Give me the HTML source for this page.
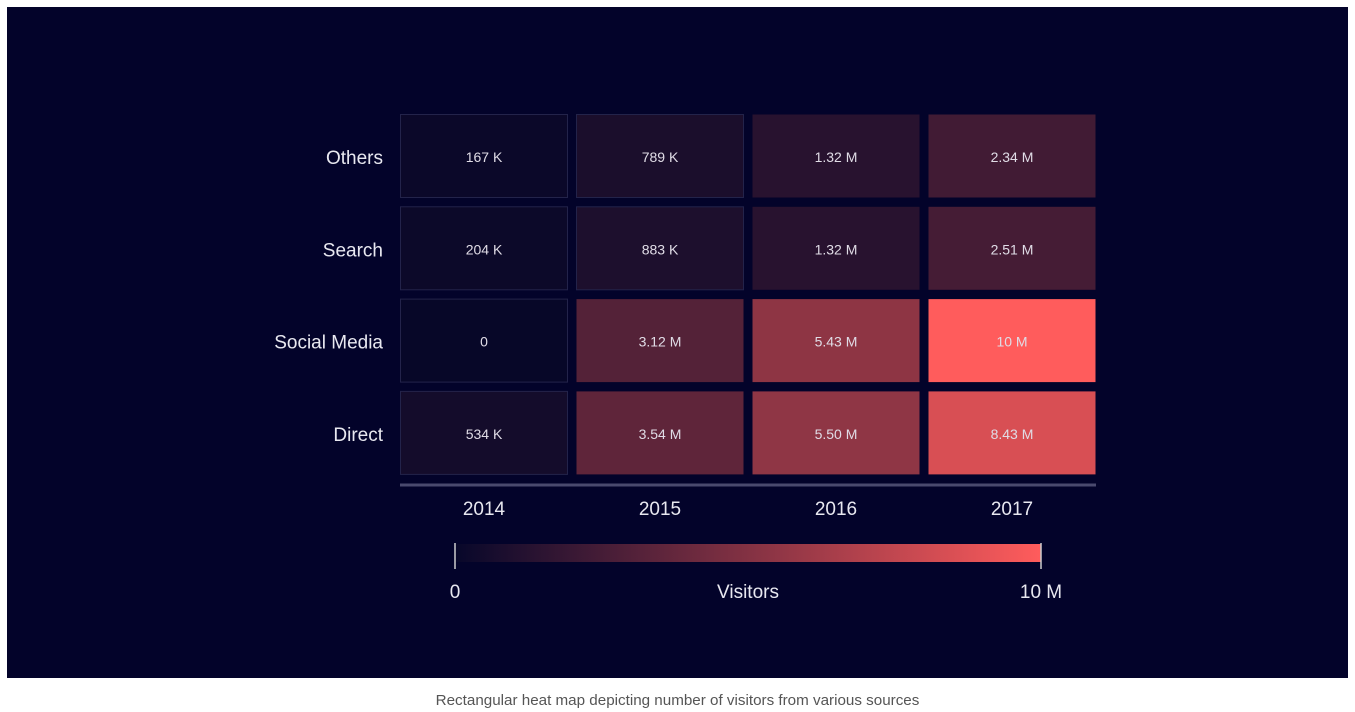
<!DOCTYPE html>
<html><head><meta charset="utf-8"><style>
body{margin:0;width:1355px;height:712px;background:#fff;font-family:"Liberation Sans",sans-serif;overflow:hidden}
#panel{position:absolute;left:7px;top:7px;width:1341px;height:671px;background:#03032a}
#cap{position:absolute;left:0;width:1355px;top:692px;text-align:center;font-size:15.2px;color:#555}
</style></head><body>
<div id="panel"></div>
<svg id="chart" width="1355" height="712" style="position:absolute;left:0;top:0">
<defs><linearGradient id="lg" x1="0" x2="1"><stop offset="0" stop-color="#07072a"/><stop offset="1" stop-color="#ff5c5c"/></linearGradient></defs>
</svg>
<div id="cap">Rectangular heat map depicting number of visitors from various sources</div>
<script>
const years=["2014","2015","2016","2017"];
const sources=["Others","Search","Social Media","Direct"];
const values=[[0.167,0.789,1.32,2.34],[0.204,0.883,1.32,2.51],[0,3.12,5.43,10],[0.534,3.54,5.50,8.43]];
const labels=[["167 K","789 K","1.32 M","2.34 M"],["204 K","883 K","1.32 M","2.51 M"],["0","3.12 M","5.43 M","10 M"],["534 K","3.54 M","5.50 M","8.43 M"]];
const maxV=10;
const svg=document.getElementById('chart');const NS="http://www.w3.org/2000/svg";
function mk(t,a,p){const e=document.createElementNS(NS,t);for(const k in a)e.setAttribute(k,a[k]);(p||svg).appendChild(e);return e;}
const x=i=>400+i*176, y=j=>114+j*92.3;
function col(v){const t=v/maxV;const a=[7,7,40],b=[255,92,92];return `rgb(${a.map((c,i)=>Math.round(c+(b[i]-c)*t)).join(',')})`;}
sources.forEach((s,j)=>{
 const l=mk('text',{x:383,y:y(j)+50,'text-anchor':'end','font-size':19,fill:'#e8e8f0'});l.textContent=s;
 
 
 years.forEach((yr,i)=>{
  const v=values[j][i];
  const r=mk('rect',{x:x(i)+0.5,y:y(j)+0.5,width:167,height:83,fill:col(v),stroke:v<1?'#23234a':'none'});
  
  
  const t=mk('text',{x:x(i)+84,y:y(j)+48,'text-anchor':'middle','font-size':14,fill:'#e0dce6'});t.textContent=labels[j][i];
  
  
 });
});
const ax=mk('line',{x1:400,x2:1096,y1:485,y2:485,stroke:'#4a4a6e','stroke-width':3});


years.forEach((yr,i)=>{const t=mk('text',{x:x(i)+84,y:515,'text-anchor':'middle','font-size':19,fill:'#e8e8f0'});t.textContent=yr;
 
 });
const lb=mk('rect',{x:455,y:544,width:586,height:18,fill:'url(#lg)'});


[455,1041].forEach(px=>{const l=mk('line',{x1:px,x2:px,y1:543,y2:569,stroke:'#ccc','stroke-width':1.5});
 
 });
[["0",455],["Visitors",748],["10 M",1041]].forEach(([s,px])=>{const t=mk('text',{x:px,y:598,'text-anchor':'middle','font-size':19,fill:'#e8e8f0'});t.textContent=s;
 
 });
</script>
</body></html>
